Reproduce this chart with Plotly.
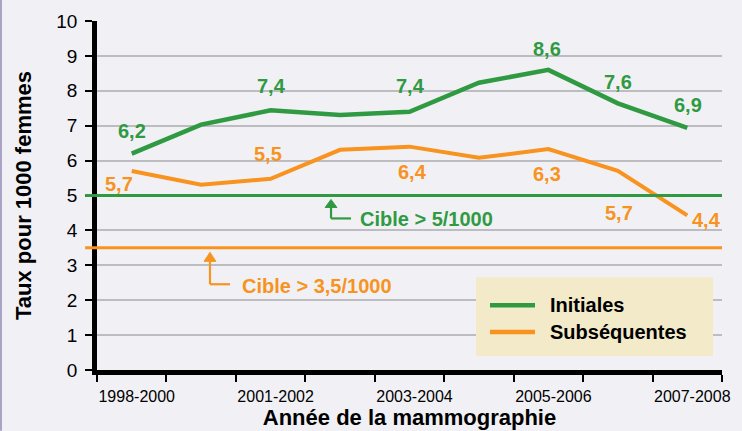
import plotly.graph_objects as go

# ---- data ----
periods = ["1998-2000", "2000-2001", "2001-2002", "2002-2003", "2003-2004",
           "2004-2005", "2005-2006", "2006-2007", "2007-2008"]
shown_labels = ["1998-2000", "", "2001-2002", "", "2003-2004", "", "2005-2006", "", "2007-2008"]
initiales = [6.2, 7.03, 7.44, 7.31, 7.4, 8.23, 8.6, 7.64, 6.94]
subsequentes = [5.7, 5.31, 5.48, 6.31, 6.4, 6.08, 6.33, 5.71, 4.43]
cible_initiales = 5.0
cible_subsequentes = 3.5
y_ticks = list(range(0, 11))

# indices of points that carry a value label
lab_init_idx = [0, 2, 4, 6, 7, 8]
lab_sub_idx = [0, 2, 4, 6, 7, 8]

# ---- style ----
GREEN = "#309a42"
ORANGE = "#f7931e"
BG = "#f1f1f5"
GRID = "#bdbdc1"
LEG_BG = "#f2eac9"
FONT = "Liberation Sans, Arial, sans-serif"

x = list(range(len(periods)))
bounds = [i - 0.5 for i in range(len(periods) + 1)]

fig = go.Figure()
fig.add_trace(go.Scatter(x=x, y=initiales, mode="lines", name="Initiales",
                         line=dict(color=GREEN, width=4.5), showlegend=False,
                         hovertext=periods))
fig.add_trace(go.Scatter(x=x, y=subsequentes, mode="lines", name="Subséquentes",
                         line=dict(color=ORANGE, width=4), showlegend=False,
                         hovertext=periods))

def fmt(v):
    return f"{v:.1f}".replace(".", ",")

# label offsets in pixels (dx, dy with dy down positive)
off_init = {0: (0, -23), 2: (1, -24), 4: (1, -26), 6: (-1, -21), 7: (0, -21), 8: (1, -23)}
off_sub = {0: (-13, 13), 2: (-3, -25), 4: (3, 25), 6: (-1, 25), 7: (1, 42), 8: (19, 5)}

annotations = []
for i in lab_init_idx:
    dx, dy = off_init[i]
    annotations.append(dict(x=x[i], y=initiales[i], text=fmt(initiales[i]), showarrow=False,
                            xshift=dx, yshift=-dy,
                            font=dict(family=FONT, size=20, color=GREEN, weight="bold")))
for i in lab_sub_idx:
    dx, dy = off_sub[i]
    annotations.append(dict(x=x[i], y=subsequentes[i], text=fmt(subsequentes[i]), showarrow=False,
                            xshift=dx, yshift=-dy,
                            font=dict(family=FONT, size=20, color=ORANGE, weight="bold")))

shapes = []
# target lines
for val, col in [(cible_initiales, GREEN), (cible_subsequentes, ORANGE)]:
    shapes.append(dict(type="line", xref="paper", yref="y", x0=-0.019, x1=1.0, y0=val, y1=val,
                       line=dict(color=col, width=3), layer="above"))

# elbow arrows pointing to target lines + their texts
def elbow(xa, tip, base, bottom, xend, col, text, xt, yt):
    hw = 0.085
    shapes.append(dict(type="path", xref="x", yref="y",
                       path=f"M{xa - hw},{base} L{xa + hw},{base} L{xa},{tip} Z",
                       fillcolor=col, line=dict(color=col, width=1), layer="above"))
    shapes.append(dict(type="line", xref="x", yref="y", x0=xa, x1=xa, y0=base, y1=bottom,
                       line=dict(color=col, width=2.2), layer="above"))
    shapes.append(dict(type="line", xref="x", yref="y", x0=xa, x1=xend, y0=bottom, y1=bottom,
                       line=dict(color=col, width=2.2), layer="above"))
    annotations.append(dict(x=xt, y=yt, xref="x", yref="y", text=text, showarrow=False,
                            xanchor="left", yanchor="middle",
                            font=dict(family=FONT, size=20, color=col, weight="bold")))

elbow(2.870, cible_initiales - 0.114, cible_initiales - 0.343, cible_initiales - 0.657, 3.158,
      GREEN, "Cible &gt; 5/1000", 3.259, cible_initiales - 0.66)
elbow(1.127, cible_subsequentes - 0.129, cible_subsequentes - 0.386, cible_subsequentes - 1.043, 1.415,
      ORANGE, "Cible &gt; 3,5/1000", 1.559, cible_subsequentes - 1.08)

# manual legend box
shapes.append(dict(type="rect", xref="paper", yref="paper", x0=0.6064, x1=0.9856, y0=0.04, y1=0.2657,
                   fillcolor=LEG_BG, line=dict(width=0), layer="above"))
for yy, col, name in [(0.1857, GREEN, "Initiales"), (0.1086, ORANGE, "Subséquentes")]:
    shapes.append(dict(type="line", xref="paper", yref="paper", x0=0.6288, x1=0.7008, y0=yy, y1=yy,
                       line=dict(color=col, width=4.5), layer="above"))
    annotations.append(dict(x=0.7216, y=yy, xref="paper", yref="paper", text=name, showarrow=False,
                            xanchor="left", yanchor="middle",
                            font=dict(family=FONT, size=20, color="black", weight="bold")))

fig.update_layout(
    width=742, height=431,
    margin=dict(l=97, r=20, t=21, b=61, autoexpand=False),
    paper_bgcolor=BG, plot_bgcolor=BG,
    font=dict(family=FONT, color="black"),
    showlegend=False,
    shapes=shapes, annotations=annotations,
)
fig.update_xaxes(
    range=[-0.5, len(periods) - 0.5], tickmode="array", tickvals=x, ticktext=shown_labels,
    ticks="", showgrid=False, zeroline=False, automargin=False,
    showline=True, linecolor="black", linewidth=4.5,
    tickfont=dict(family=FONT, size=16, color="black"),
    ticklabelshift=5, ticklabelstandoff=8,
    minor=dict(tickmode="array", tickvals=bounds, ticks="outside", ticklen=7, tickwidth=2,
               tickcolor="black", showgrid=False),
    title=dict(text="Année de la mammographie", standoff=7,
               font=dict(family=FONT, size=22, color="black", weight="bold")),
)
fig.update_yaxes(
    range=[0, 10], tickmode="array", tickvals=y_ticks,
    ticks="outside", ticklen=7, tickwidth=2, tickcolor="black",
    showgrid=True, gridcolor=GRID, gridwidth=1.5, zeroline=False, automargin=False,
    showline=True, linecolor="black", linewidth=4.5,
    tickfont=dict(family=FONT, size=19, color="black"),
    ticklabelstandoff=4,
    title=dict(text="Taux pour 1000 femmes", standoff=20,
               font=dict(family=FONT, size=22, color="black", weight="bold")),
)
# left border strip
fig.add_shape(type="rect", xref="paper", yref="paper", x0=-97/625, x1=-95/625, y0=-61/350, y1=1 + 21/350,
              fillcolor="#aaa5c8", line=dict(width=0))

fig.write_html("out.html", config={"displayModeBar": False},
               post_script="document.body.style.margin='0';document.body.style.background='%s';" % BG)
